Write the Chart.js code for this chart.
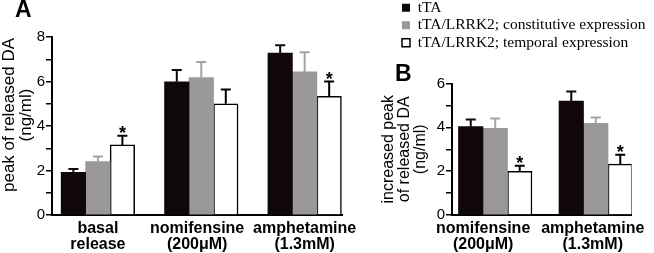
<!DOCTYPE html>
<html>
<head>
<meta charset="utf-8">
<script src="https://cdn.jsdelivr.net/npm/chart.js@4"></script>
<style>
  body { margin: 0; background: #fff; }
  #wrap { position: relative; width: 654px; height: 253px; }
  canvas { position: absolute; top: 0; }
  #chartA { left: 0; }
  #chartB { left: 365px; }
</style>
</head>
<body>
<div id="wrap">
  <canvas id="chartA" width="365" height="253"></canvas>
  <canvas id="chartB" width="289" height="253"></canvas>
</div>
<script>
// series names (legend)
const seriesNames = ['tTA', 'tTA/LRRK2; constitutive expression', 'tTA/LRRK2; temporal expression'];

// panel A: peak of released DA (ng/ml)
const groupsA = [['basal', 'release'], ['nomifensine', '(200μM)'], ['amphetamine', '(1.3mM)']];
const peakTTA = [1.92, 5.99, 7.28];
const peakConst = [2.40, 6.18, 6.43];
const peakTemp = [3.15, 5.00, 5.33];
const peakTTAErr = [0.15, 0.53, 0.35];
const peakConstErr = [0.23, 0.70, 0.89];
const peakTempErr = [0.41, 0.64, 0.67];
const peakTempSig = [true, false, true];
const yLabelsA = [0, 2, 4, 6, 8];

// panel B: increased peak of released DA (ng/ml)
const groupsB = [['nomifensine', '(200μM)'], ['amphetamine', '(1.3mM)']];
const incTTA = [4.03, 5.20];
const incConst = [3.95, 4.18];
const incTemp = [1.99, 2.32];
const incTTAErr = [0.33, 0.44];
const incConstErr = [0.45, 0.27];
const incTempErr = [0.26, 0.43];
const incTempSig = [true, true];
const yLabelsB = [0, 2, 4, 6];

const fills = ['#100808', '#9a9898', '#ffffff'];
const errColors = ['#100808', '#a3a3a3', '#000000'];

Chart.defaults.font.family = "'Liberation Sans', Arial, sans-serif";
Chart.defaults.color = '#000';

// error bars + significance stars
const errorBars = {
  id: 'errorBars',
  afterDatasetsDraw(chart) {
    const ctx = chart.ctx;
    const yScale = chart.scales.y;
    chart.data.datasets.forEach((ds, i) => {
      const meta = chart.getDatasetMeta(i);
      meta.data.forEach((bar, j) => {
        const top = yScale.getPixelForValue(ds.data[j].y + ds.errors[j]);
        ctx.save();
        ctx.strokeStyle = ds.errorColor;
        ctx.lineWidth = 2;
        ctx.beginPath();
        ctx.moveTo(bar.x, bar.y);
        ctx.lineTo(bar.x, top);
        ctx.moveTo(bar.x - 5, top);
        ctx.lineTo(bar.x + 5, top);
        ctx.stroke();
        if (ds.stars && ds.stars[j]) {
          ctx.fillStyle = '#000';
          ctx.font = "bold 18px 'Liberation Sans'";
          ctx.textAlign = 'center';
          ctx.textBaseline = 'alphabetic';
          ctx.fillText('*', bar.x, top + 3);
        }
        ctx.restore();
      });
    });
  }
};

// "A" / "B" panel letters
const panelLetter = {
  id: 'panelLetter',
  afterDraw(chart, args, opts) {
    const ctx = chart.ctx;
    ctx.save();
    ctx.font = "bold 23px 'Liberation Sans'";
    ctx.fillStyle = '#000';
    ctx.textBaseline = 'alphabetic';
    ctx.fillText(opts.text, opts.x, opts.y);
    ctx.restore();
  }
};

// move the legend block to where the figure has it
const legendShift = {
  id: 'legendShift',
  afterLayout(chart, args, opts) {
    const lg = chart.legend;
    if (!lg || !lg.options.display) return;
    const w = lg.width, h = lg.height;
    lg.left = opts.x; lg.right = opts.x + w;
    lg.top = opts.y; lg.bottom = opts.y + h;
  }
};

// y title sits a bit above the middle of the axis in panel A
const titleShift = {
  id: 'titleShift',
  beforeDraw(chart, args, opts) {
    const s = chart.scales.y;
    if (s._shifted) return;
    const draw = s.drawTitle;
    s.drawTitle = function () {
      this.top -= opts.dy; this.bottom -= opts.dy;
      draw.call(this);
      this.top += opts.dy; this.bottom += opts.dy;
    };
    s._shifted = true;
  }
};

function buildSets(values, errors, stars) {
  return values.map((vals, i) => ({
    label: seriesNames[i],
    data: vals.map((v, j) => ({ x: j, y: v })),
    errors: errors[i],
    stars: stars[i],
    errorColor: errColors[i],
    backgroundColor: fills[i],
    borderColor: '#000',
    borderWidth: i === 2 ? 1.5 : 0,
    borderSkipped: 'bottom'
  }));
}

function xScale(labels, nudge, min, max) {
  return {
    type: 'linear', min: min, max: max, offset: false,
    grid: { display: false, drawTicks: false },
    border: { display: true, color: '#000', width: 2 },
    afterBuildTicks: s => { s.ticks = labels.map((_, i) => ({ value: i + nudge[i] })); },
    afterFit: s => { s.height = 38; },
    ticks: {
      color: '#000', autoSkip: false, maxRotation: 0, padding: 6,
      font: { size: 16, weight: 'bold', lineHeight: 1 },
      callback: (v, i) => labels[i]
    }
  };
}

function yScale(max, shown, title, width, titlePad, titleSize) {
  return {
    min: 0, max: max,
    grid: { display: true, drawOnChartArea: false, drawTicks: true, tickLength: 6, color: '#000', lineWidth: 1.5 },
    border: { display: true, color: '#000', width: 2 },
    afterFit: s => { s.width = width; },
    ticks: { stepSize: 1, color: '#000', padding: 1, font: { size: 15 },
      callback: v => shown.includes(v) ? String(v) : '' },
    title: { display: true, text: title, color: '#000',
      font: { size: titleSize, lineHeight: 1 }, padding: { top: titlePad, bottom: 0 } }
  };
}

new Chart(document.getElementById('chartA'), {
  type: 'bar',
  data: {
    datasets: buildSets([peakTTA, peakConst, peakTemp],
      [peakTTAErr, peakConstErr, peakTempErr], [null, null, peakTempSig])
  },
  options: {
    responsive: false,
    animation: false,
    layout: { padding: { top: 37, right: 21, bottom: 0, left: 0 } },
    datasets: { bar: { barThickness: 24.5 } },
    plugins: {
      legend: { display: false },
      tooltip: { enabled: false },
      panelLetter: { text: 'A', x: 15, y: 17 },
      titleShift: { dy: 11 }
    },
    scales: {
      x: xScale(groupsA, [0, -0.04, 0], -0.444, 2.37),
      y: yScale(8, yLabelsA, ['peak of released DA', '(ng/ml)'], 52, 1, 17)
    }
  },
  plugins: [errorBars, panelLetter, titleShift]
});

new Chart(document.getElementById('chartB'), {
  type: 'bar',
  data: {
    datasets: buildSets([incTTA, incConst, incTemp],
      [incTTAErr, incConstErr, incTempErr], [null, null, incTempSig])
  },
  options: {
    responsive: false,
    animation: false,
    layout: { padding: { top: 21, right: 17, bottom: 0, left: 0 } },
    datasets: { bar: { barThickness: 24.5 } },
    plugins: {
      legend: {
        display: true, position: 'top', align: 'start',
        labels: { boxWidth: 8, boxHeight: 8, padding: 2, color: '#000',
          font: { family: "'Liberation Serif', 'Times New Roman', serif", size: 15.5 } }
      },
      legendShift: { x: 35, y: -2 },
      tooltip: { enabled: false },
      panelLetter: { text: 'B', x: 30, y: 81 }
    },
    scales: {
      x: xScale(groupsB, [-0.12, -0.03], -0.43, 1.357),
      y: yScale(6, yLabelsB, ['increased peak', 'of released DA', '(ng/ml)'], 87, 16, 16)
    }
  },
  plugins: [errorBars, panelLetter, legendShift]
});
</script>
</body>
</html>
